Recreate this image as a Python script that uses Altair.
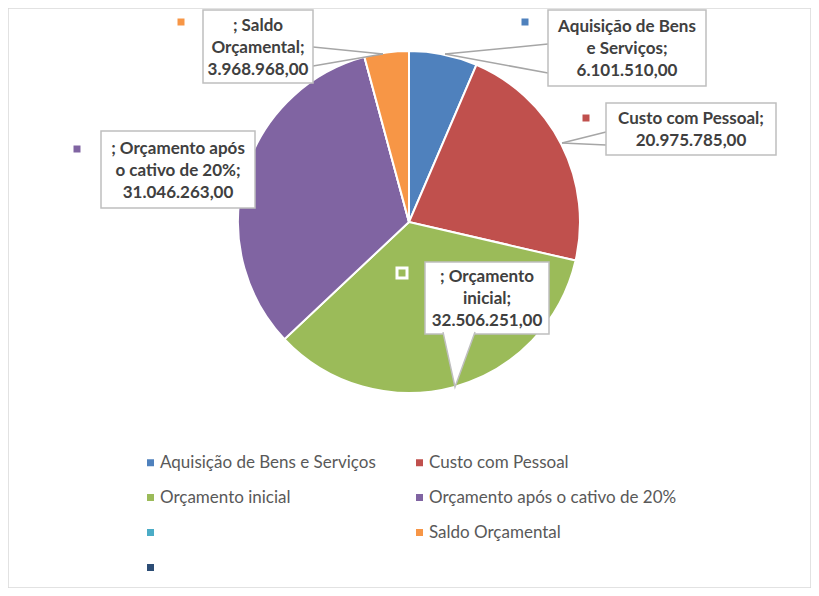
import altair as alt
import pandas as pd

# ---------------- data ----------------
categories = [
    "Aquisição de Bens e Serviços",
    "Custo com Pessoal",
    "Orçamento inicial",
    "Orçamento após o cativo de 20%",
    " ",
    "Saldo Orçamental",
    "  ",
]
values = [6101510.00, 20975785.00, 32506251.00, 31046263.00, 0.0, 3968968.00, 0.0]
colors = ["#4F81BD", "#C0504D", "#9BBB59", "#8064A2", "#4BACC6", "#F79646", "#2C4D75"]

# data label text (as wrapped in the original), value appended below
label_heads = {
    "Aquisição de Bens e Serviços": ["Aquisição de Bens", "e Serviços;"],
    "Custo com Pessoal": ["Custo com Pessoal;"],
    "Orçamento inicial": ["; Orçamento", "inicial;"],
    "Orçamento após o cativo de 20%": ["; Orçamento após", "o cativo de 20%;"],
    "Saldo Orçamental": ["; Saldo", "Orçamental;"],
}


def fmt_pt(v):
    s = f"{v:,.2f}"
    return s.replace(",", "X").replace(".", ",").replace("X", ".")


df = pd.DataFrame({"categoria": categories, "valor": values, "ordem": list(range(len(categories)))})
df["rotulo"] = [
    "\n".join(label_heads[c] + [fmt_pt(v)]) if c in label_heads else "" for c, v in zip(categories, values)
]

# ---------------- style / layout ----------------
W, H = 803, 580
CX, CY, R = 401, 214, 171
FONT = "Lato"
TXT = "#404040"
BOX_STROKE = "#bfbfbf"
LEAD = "#a6a6a6"
LINE_H = 22

# callout boxes (x0, y0, x1, y1) and key square position per label
boxes = {
    "Aquisição de Bens e Serviços": ((540, 2, 698, 78), (517, 14)),
    "Custo com Pessoal": ((598, 95, 768, 147), (578, 110)),
    "Orçamento inicial": ((417, 254, 541, 326), (394, 265)),
    "Orçamento após o cativo de 20%": ((93, 123, 247, 200), (69, 141)),
    "Saldo Orçamental": ((195, 2, 305, 75), (173, 14)),
}
leaders = [
    ((437, 46), (540, 36)), ((437, 46), (540, 65)),
    ((375, 46), (305, 39)), ((375, 46), (305, 58)),
    ((554, 135), (598, 124)), ((554, 135), (598, 137)),
]

color_scale = alt.Scale(domain=categories, range=colors)
one = pd.DataFrame({"k": [0]})

pie = alt.Chart(df).mark_arc(outerRadius=R, stroke="white", strokeWidth=2).encode(
    theta=alt.Theta("valor:Q", stack=True),
    order=alt.Order("ordem:Q"),
    color=alt.Color(
        "categoria:N",
        scale=color_scale,
        sort=categories,
        legend=alt.Legend(
            orient="none",
            direction="horizontal",
            legendX=134,
            legendY=446,
            columns=2,
            title=None,
            symbolType="square",
            symbolSize=49,
            symbolStrokeWidth=0,
            labelFont=FONT,
            labelFontSize=17,
            labelColor="#595959",
            labelOffset=1,
            labelLimit=400,
            rowPadding=17,
            columnPadding=35,
            padding=0,
        ),
    ),
    x=alt.value(CX),
    y=alt.value(CY),
)

layers = [pie]

for (p0, p1) in leaders:
    layers.append(
        alt.Chart(one).mark_rule(color=LEAD, strokeWidth=1.5).encode(
            x=alt.value(p0[0]), y=alt.value(p0[1]), x2=alt.value(p1[0]), y2=alt.value(p1[1])
        )
    )

for cat, ((x0, y0, x1, y1), (kx, ky)) in boxes.items():
    n_lines = len(label_heads[cat]) + 1
    sub = alt.Chart(df).transform_filter(alt.datum.categoria == cat)
    layers.append(
        sub.mark_rect(fill="white", stroke=BOX_STROKE, strokeWidth=1.5).encode(
            x=alt.value(x0), x2=alt.value(x1), y=alt.value(y0), y2=alt.value(y1)
        )
    )
    layers.append(
        sub.mark_text(
            font=FONT, fontSize=17, fontWeight="bold", color=TXT, lineBreak="\n",
            lineHeight=LINE_H, align="center", baseline="middle",
        ).encode(
            x=alt.value((x0 + x1) / 2),
            y=alt.value((y0 + y1) / 2 - (n_lines - 1) / 2 * LINE_H + 1),
            text="rotulo:N",
        )
    )
    layers.append(
        sub.mark_point(shape="square", filled=True, size=100, stroke="white", strokeWidth=3, opacity=1).encode(
            x=alt.value(kx), y=alt.value(ky),
            color=alt.Color("categoria:N", scale=color_scale, legend=None),
        )
    )

# pointer of the "Orçamento inicial" callout
layers.append(
    alt.Chart(one).mark_point(
        shape="M -0.444 -0.07 L 0 1.963 L 0.741 -0.07",
        size=2916, filled=True, fill="white", stroke=BOX_STROKE, strokeWidth=1.5, opacity=1,
    ).encode(x=alt.value(447), y=alt.value(326))
)

chart = (
    alt.layer(*layers)
    .properties(width=W, height=H, autosize=alt.AutoSizeParams(type="none"), padding=0)
    .configure_view(stroke="#d9d9d9", strokeWidth=1.5)
)

chart.save("out.html", embed_options={"renderer": "svg", "actions": False})
